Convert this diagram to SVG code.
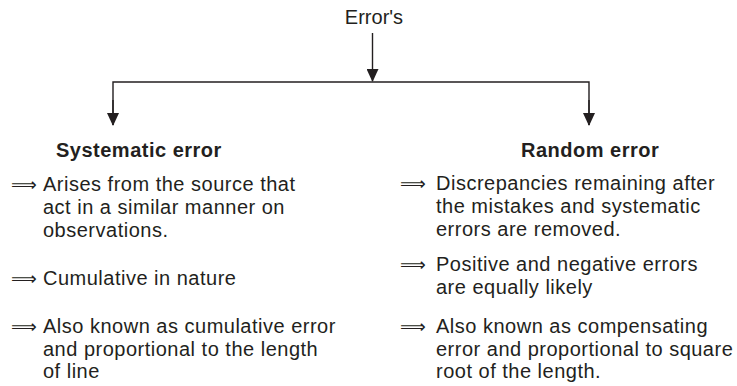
<svg xmlns="http://www.w3.org/2000/svg" width="737" height="386" viewBox="0 0 737 386">
<defs>
<style>
.t{font-family:"Liberation Sans",Arial,sans-serif;font-size:20px;fill:#231f20;letter-spacing:0.5px}
.h{font-family:"Liberation Sans",Arial,sans-serif;font-size:20px;font-weight:bold;fill:#231f20;letter-spacing:0.5px}
.r{font-family:"Liberation Sans",Arial,sans-serif;font-size:20px;fill:#231f20}
.a{font-family:"DejaVu Sans",sans-serif;font-size:18px;fill:#231f20}
.c{stroke:#231f20;stroke-width:1.4;fill:none}
</style>
<marker id="dn" viewBox="0 0 13 12" refX="12" refY="6" markerWidth="13" markerHeight="12" markerUnits="userSpaceOnUse" orient="auto">
<path d="M0,0 L13,6 L0,12 Z" fill="#231f20"/>
</marker>
</defs>
<rect width="737" height="386" fill="#ffffff"/>
<g id="root"><text class="r" x="374" y="24" text-anchor="middle">Error's</text></g>
<g id="connectors">
<line class="c" x1="372.5" y1="33" x2="372.5" y2="81" marker-end="url(#dn)"/>
<polyline class="c" points="113,125 113,82 589,82 589,125"/>
<line class="c" x1="113" y1="100" x2="113" y2="125" marker-end="url(#dn)"/>
<line class="c" x1="589" y1="100" x2="589" y2="125" marker-end="url(#dn)"/>
</g>
<g id="systematic">
<text class="h" x="56" y="157">Systematic error</text>
<text class="a" x="11" y="191">⟹</text>
<text class="t" x="43" y="191">Arises from the source that</text>
<text class="t" x="43" y="214">act in a similar manner on</text>
<text class="t" x="43" y="237">observations.</text>
<text class="a" x="11" y="285">⟹</text>
<text class="t" x="43" y="285">Cumulative in nature</text>
<text class="a" x="11" y="333">⟹</text>
<text class="t" x="43" y="333">Also known as cumulative error</text>
<text class="t" x="43" y="356">and proportional to the length</text>
<text class="t" x="43" y="378">of line</text>
</g>
<g id="random">
<text class="h" x="521" y="157">Random error</text>
<text class="a" x="400" y="190">⟹</text>
<text class="t" x="436" y="190">Discrepancies remaining after</text>
<text class="t" x="436" y="213">the mistakes and systematic</text>
<text class="t" x="436" y="236">errors are removed.</text>
<text class="a" x="400" y="271">⟹</text>
<text class="t" x="436" y="271">Positive and negative errors</text>
<text class="t" x="436" y="294">are equally likely</text>
<text class="a" x="400" y="333">⟹</text>
<text class="t" x="436" y="333">Also known as compensating</text>
<text class="t" x="436" y="356">error and proportional to square</text>
<text class="t" x="436" y="378">root of the length.</text>
</g>
</svg>
